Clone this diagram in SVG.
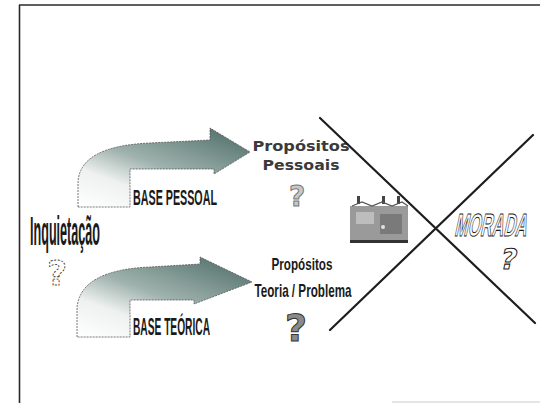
<svg xmlns="http://www.w3.org/2000/svg" width="540" height="403" viewBox="0 0 540 403">
<defs>
<linearGradient id="arrowGrad" x1="0" y1="1" x2="0.8" y2="0">
<stop offset="0" stop-color="#ffffff"/>
<stop offset="0.3" stop-color="#eef1f0"/>
<stop offset="0.55" stop-color="#9fb2ad"/>
<stop offset="1" stop-color="#587570"/>
</linearGradient>
<style>
.frame{stroke:#2a2a2a;stroke-width:1.6;fill:none}
.arrow{fill:url(#arrowGrad);stroke:#555;stroke-width:0.8;stroke-dasharray:2 1}
.cross{stroke:#1e1e1e;stroke-width:2.2;stroke-linecap:round}
.cond{font-family:"Liberation Sans",Arial,sans-serif;font-weight:bold;fill:#1a1a1a}
.wide{font-family:"DejaVu Sans","Liberation Sans",sans-serif;font-weight:bold;fill:#3a3a3a}
.q{font-family:"DejaVu Sans",sans-serif;font-weight:bold}
.outline{fill:#ffffff;stroke:#1a1a1a;stroke-width:1}
</style>
</defs>
<rect width="540" height="403" fill="#ffffff"/>
<g id="frame">
<line class="frame" x1="19.5" y1="5" x2="19.5" y2="403"/>
<line class="frame" x1="19" y1="5" x2="540" y2="5"/>
<line x1="392" y1="402" x2="540" y2="402" stroke="#dddddd" stroke-width="1.5"/>
</g>
<g id="connectors">
<path id="arrow-pessoal" class="arrow" d="M78,207 L78,182 Q80,146 150,143 L210,140 L210,128 L250,152 L214,174 L214,169 L130,169 L130,207 Z"/>
<path id="arrow-teorica" class="arrow" d="M77,337 L77,308 Q80,270 150,267 L200,264 L200,257 L252,282 L194,304 L194,300 L130,300 L130,337 Z"/>
</g>
<g id="inquietacao">
<text class="cond" x="30" y="245" font-size="41" textLength="70" lengthAdjust="spacingAndGlyphs">Inquietação</text>
<text class="q" x="57" y="285" font-size="34" text-anchor="middle" fill="#ffffff" stroke="#333" stroke-width="0.9" stroke-dasharray="2 1.5">?</text>
</g>
<g id="base-pessoal">
<text class="cond" x="133" y="205" font-size="22" textLength="84" lengthAdjust="spacingAndGlyphs">BASE PESSOAL</text>
</g>
<g id="base-teorica">
<text class="cond" x="133" y="335" font-size="24" textLength="77" lengthAdjust="spacingAndGlyphs">BASE TEÓRICA</text>
</g>
<g id="propositos-pessoais">
<text class="wide" x="301" y="151" font-size="14" text-anchor="middle" textLength="97" lengthAdjust="spacingAndGlyphs">Propósitos</text>
<text class="wide" x="301" y="170" font-size="14" text-anchor="middle" textLength="77" lengthAdjust="spacingAndGlyphs">Pessoais</text>
<text class="q" x="297" y="206" font-size="28" text-anchor="middle" fill="#c8c8c8" stroke="#777" stroke-width="1">?</text>
</g>
<g id="propositos-teoria">
<text class="cond" x="302" y="270" font-size="17" text-anchor="middle" textLength="61" lengthAdjust="spacingAndGlyphs">Propósitos</text>
<text class="cond" x="303" y="297" font-size="19" text-anchor="middle" textLength="97" lengthAdjust="spacingAndGlyphs">Teoria / Problema</text>
<text class="q" x="296" y="341" font-size="38" text-anchor="middle" fill="#8a8a8a" stroke="#333" stroke-width="1">?</text>
</g>
<g id="casa">
<rect x="350" y="206" width="58" height="34" fill="#9a9a9a"/>
<rect x="356" y="212" width="18" height="12" fill="#bdbdbd"/>
<rect x="380" y="214" width="22" height="20" fill="#7a7a7a"/>
<circle cx="383" cy="227" r="2" fill="#e0e0e0"/>
<rect x="350" y="240" width="58" height="3" fill="#333"/>
<rect x="357" y="196" width="3" height="8" fill="#444"/>
<rect x="382" y="196" width="3" height="8" fill="#444"/>
<rect x="397" y="196" width="3" height="8" fill="#444"/>
<path d="M352,206 L362,202 L372,206 L382,202 L392,206 L402,202 L408,206" fill="none" stroke="#555" stroke-width="1.2"/>
</g>
<g id="cross">
<line class="cross" x1="320" y1="118" x2="535" y2="323"/>
<line class="cross" x1="533" y1="135" x2="330" y2="330"/>
</g>
<g id="morada">
<g transform="translate(490,236) skewX(-12)">
<text class="outline" x="0" y="0" font-family="'Liberation Sans',Arial,sans-serif" font-weight="bold" font-size="32" text-anchor="middle" textLength="72" lengthAdjust="spacingAndGlyphs">MORADA</text>
</g>
<g transform="translate(507,269) skewX(-12)">
<text class="q outline" x="0" y="0" font-size="28" text-anchor="middle">?</text>
</g>
</g>
</svg>
